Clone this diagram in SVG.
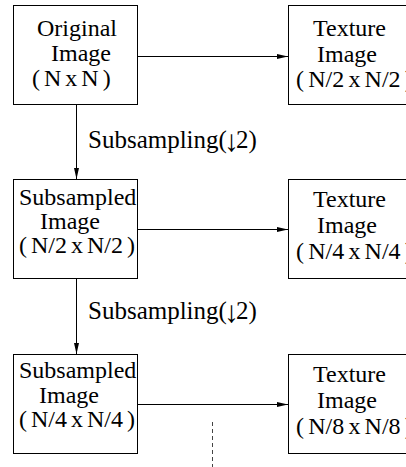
<svg xmlns="http://www.w3.org/2000/svg" width="406" height="467" viewBox="0 0 406 467">
<style>
.box{fill:#fff;stroke:#000;stroke-width:1}
.t{font-family:"Liberation Serif","DejaVu Serif",serif;font-size:24px;fill:#000;word-spacing:-2px}
.tt{font-family:"Liberation Serif","DejaVu Serif",serif;font-size:24px;fill:#000;word-spacing:-1.8px}
.lbl{font-family:"Liberation Serif","DejaVu Serif",serif;font-size:25px;fill:#000}
.conn{stroke:#000;stroke-width:1;fill:none}
.dash{stroke:#444;stroke-width:1;stroke-dasharray:4 3;fill:none}
</style>
<defs>
<marker id="ah" markerUnits="userSpaceOnUse" markerWidth="11" markerHeight="6" refX="11" refY="3" orient="auto">
<path d="M0,0.5 L11,3 L0,5.5 z" fill="#000"/>
</marker>
</defs>
<rect width="406" height="467" fill="#fff"/>
<g id="original">
<rect class="box" x="13.5" y="5.5" width="124" height="99"/>
<text class="t" x="37" y="36">Original</text>
<text class="t" x="51" y="61">Image</text>
<text class="t" x="32" y="86">( N x N )</text>
</g>
<g id="texture1">
<rect class="box" x="288.5" y="5.5" width="130" height="99"/>
<text class="tt" x="313" y="36">Texture</text>
<text class="tt" x="317" y="62">Image</text>
<text class="tt" x="296" y="87">( N/2 x N/2 )</text>
</g>
<g id="sub1">
<rect class="box" x="13.5" y="179.5" width="124" height="99"/>
<text class="t" x="19" y="205">Subsampled</text>
<text class="t" x="40" y="229">Image</text>
<text class="t" x="19" y="253">( N/2 x N/2 )</text>
</g>
<g id="texture2">
<rect class="box" x="288.5" y="179.5" width="130" height="99"/>
<text class="tt" x="313" y="207">Texture</text>
<text class="tt" x="317" y="233">Image</text>
<text class="tt" x="296" y="259">( N/4 x N/4 )</text>
</g>
<g id="sub2">
<rect class="box" x="13.5" y="354.5" width="124" height="99"/>
<text class="t" x="19" y="378">Subsampled</text>
<text class="t" x="39" y="403">Image</text>
<text class="t" x="19" y="427">( N/4 x N/4 )</text>
</g>
<g id="texture3">
<rect class="box" x="288.5" y="354.5" width="130" height="99"/>
<text class="tt" x="313" y="382">Texture</text>
<text class="tt" x="317" y="408">Image</text>
<text class="tt" x="296" y="434">( N/8 x N/8 )</text>
</g>
<g id="connectors">
<line class="conn" x1="137.5" y1="56.5" x2="288" y2="56.5" marker-end="url(#ah)"/>
<line class="conn" x1="137.5" y1="229.5" x2="288" y2="229.5" marker-end="url(#ah)"/>
<line class="conn" x1="137.5" y1="404.5" x2="288" y2="404.5" marker-end="url(#ah)"/>
<line class="conn" x1="76.5" y1="104.5" x2="76.5" y2="179" marker-end="url(#ah)"/>
<line class="conn" x1="76.5" y1="278.5" x2="76.5" y2="354" marker-end="url(#ah)"/>
<line class="dash" x1="212.5" y1="422" x2="212.5" y2="467"/>
</g>
<g id="labels">
<text class="lbl" x="88" y="148">Subsampling(<tspan dx="-3" dy="3" font-size="30">↓</tspan><tspan dx="-3" dy="-3">2)</tspan></text>
<text class="lbl" x="88" y="319">Subsampling(<tspan dx="-3" dy="3" font-size="30">↓</tspan><tspan dx="-3" dy="-3">2)</tspan></text>
</g>
</svg>
